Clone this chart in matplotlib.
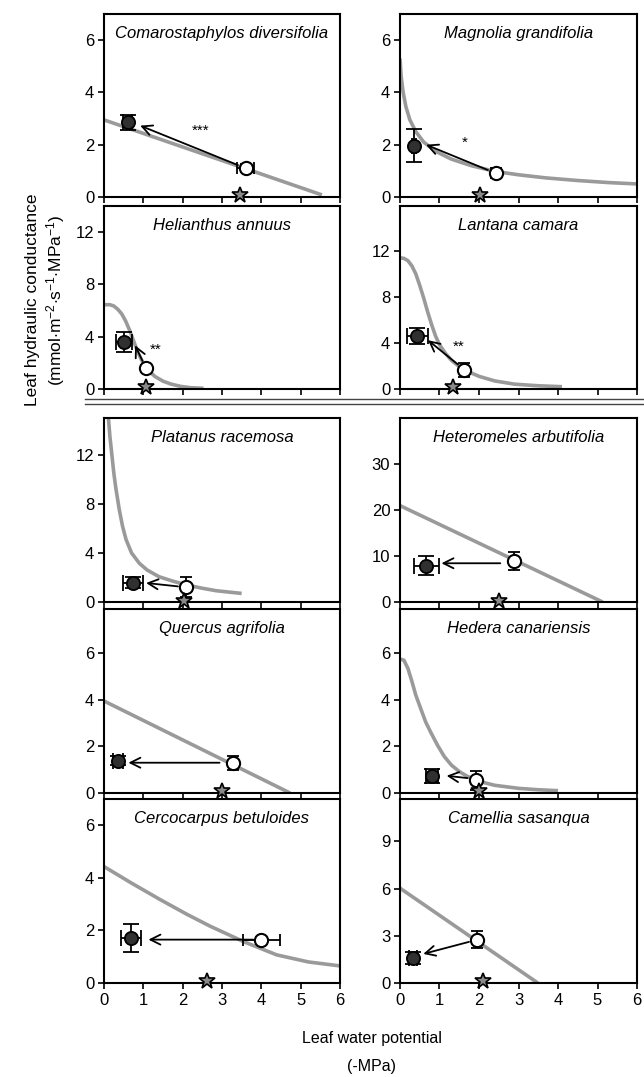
import matplotlib
matplotlib.use('Agg')
import matplotlib.pyplot as plt
import matplotlib.lines as mlines

plt.rcParams['font.family'] = ['Liberation Sans', 'DejaVu Sans']
plt.rcParams['mathtext.fontset'] = 'custom'
plt.rcParams['mathtext.rm'] = 'Liberation Sans'
plt.rcParams['mathtext.it'] = 'Liberation Sans:italic'

species = ['Comarostaphylos diversifolia', 'Magnolia grandifolia',
           'Helianthus annuus', 'Lantana camara',
           'Platanus racemosa', 'Heteromeles arbutifolia',
           'Quercus agrifolia', 'Hedera canariensis',
           'Cercocarpus betuloides', 'Camellia sasanqua']
y_max = [7, 7, 14, 15.9, 15, 39.9, 7.9, 7.9, 7, 11.7]
y_ticks = [[0, 2, 4, 6], [0, 2, 4, 6], [0, 4, 8, 12], [0, 4, 8, 12],
           [0, 4, 8, 12], [0, 10, 20, 30], [0, 2, 4, 6], [0, 2, 4, 6],
           [0, 2, 4, 6], [0, 3, 6, 9]]

# vulnerability curves
curve_x = [[0, 5.54],
           [0, 0.03, 0.08, 0.15, 0.25, 0.4, 0.6, 0.9, 1.3, 1.8, 2.4, 3.0, 3.7, 4.5, 5.3, 6.0],
           [0, 0.15, 0.25, 0.35, 0.45, 0.55, 0.65, 0.75, 0.85, 0.95, 1.05, 1.15, 1.3, 1.5,
            1.7, 1.95, 2.2, 2.53],
           [0, 0.1, 0.2, 0.3, 0.4, 0.5, 0.6, 0.7, 0.8, 0.9, 1.0, 1.15, 1.3, 1.5, 1.7, 2.0,
            2.4, 2.9, 3.5, 4.1],
           [0.11, 0.15, 0.2, 0.25, 0.3, 0.39, 0.47, 0.56, 0.7, 0.9, 1.1, 1.4, 1.75, 2.1,
            2.5, 2.85, 3.2, 3.5],
           [0, 5.13],
           [0, 4.73],
           [0, 0.1, 0.2, 0.3, 0.4, 0.53, 0.65, 0.78, 0.95, 1.12, 1.3, 1.5, 1.7, 2.0, 2.4,
            3.0, 3.5, 4.0],
           [0, 0.7, 1.42, 2.1, 2.7, 3.54, 4.39, 5.2, 6.0],
           [0, 3.49]]
curve_y = [[2.95, 0.08],
           [5.3, 4.6, 4.0, 3.45, 2.95, 2.5, 2.1, 1.75, 1.45, 1.2, 0.98, 0.85, 0.73, 0.63,
            0.55, 0.5],
           [6.45, 6.45, 6.35, 6.1, 5.75, 5.2, 4.5, 3.7, 2.9, 2.25, 1.75, 1.35, 0.95, 0.6,
            0.38, 0.2, 0.1, 0.05],
           [11.4, 11.35, 11.15, 10.7, 10.0, 9.0, 7.9, 6.7, 5.6, 4.6, 3.85, 3.1, 2.5, 1.95,
            1.55, 1.1, 0.7, 0.42, 0.28, 0.2],
           [15.1, 13.5, 12.0, 10.5, 9.3, 7.5, 6.2, 5.1, 4.0, 3.15, 2.6, 2.06, 1.7, 1.39,
            1.12, 0.92, 0.8, 0.7],
           [20.9, 0],
           [3.95, 0],
           [5.75, 5.7, 5.35, 4.8, 4.2, 3.6, 3.05, 2.6, 2.05, 1.57, 1.2, 0.92, 0.72, 0.5,
            0.33, 0.2, 0.14, 0.1],
           [4.43, 3.8, 3.18, 2.62, 2.16, 1.58, 1.07, 0.8, 0.65],
           [6.03, 0]]

# filled circles
closed_x = [0.6, 0.36, 0.51, 0.44, 0.73, 0.67, 0.36, 0.8, 0.69, 0.33]
closed_y = [2.85, 1.96, 3.6, 4.6, 1.58, 7.9, 1.39, 0.74, 1.71, 1.6]
closed_xerr = [0.12, 0.05, 0.21, 0.26, 0.25, 0.31, 0.12, 0.15, 0.26, 0.1]
closed_yerr = [0.3, 0.64, 0.75, 0.73, 0.45, 2.0, 0.2, 0.3, 0.53, 0.4]

# open circles
open_x = [3.6, 2.42, 1.07, 1.63, 2.09, 2.88, 3.27, 1.92, 4.0, 1.95]
open_y = [1.1, 0.91, 1.57, 1.67, 1.2, 8.9, 1.27, 0.55, 1.65, 2.75]
open_xerr = [0.21, 0.1, 0.03, 0.05, 0.05, 0.05, 0.05, 0.05, 0.47, 0.05]
open_yerr = [0.15, 0.2, 0.3, 0.6, 0.8, 2.0, 0.3, 0.4, 0.1, 0.55]

# arrows (start -> tip)
arrow_x0 = [3.6, 2.42, 1.07, 1.63, 2.09, 2.75, 3.15, 1.92, 4.0, 1.95]
arrow_y0 = [1.1, 0.91, 1.57, 1.67, 1.2, 8.4, 1.3, 0.6, 1.65, 2.75]
arrow_x1 = [0.92, 0.66, 0.79, 0.71, 1.07, 1.05, 0.62, 1.18, 1.13, 0.59]
arrow_y1 = [2.73, 2.0, 3.34, 4.24, 1.55, 8.4, 1.3, 0.74, 1.65, 1.85]

# stars on the x axis
star_x = [3.46, 2.03, 1.08, 1.35, 2.04, 2.5, 3.0, 1.99, 2.63, 2.1]
star_y = [0.08, 0.08, 0.15, 0.15, 0.1, 0.3, 0.1, 0.1, 0.08, 0.15]

sig_text = ['***', '*', '**', '**', '', '', '', '', '', '']
sig_x = [2.45, 1.65, 1.32, 1.48, 0, 0, 0, 0, 0, 0]
sig_y = [2.55, 2.06, 3.0, 3.7, 0, 0, 0, 0, 0, 0]

W, H = 644, 1077
fig = plt.figure(figsize=(W / 100, H / 100), dpi=100)

rows = [(14, 197), (206, 389), (418, 602), (609, 793), (799, 983)]
cols = [(104, 340), (400, 637)]

for i, name in enumerate(species):
    top, bot = rows[i // 2]
    left, right = cols[i % 2]
    ax = fig.add_axes([left / W, 1 - bot / H, (right - left) / W, (bot - top) / H])

    ax.plot(curve_x[i], curve_y[i], color='#9a9a9a', lw=2.6, zorder=1,
            solid_capstyle='butt', solid_joinstyle='round')

    ax.annotate('', xy=(arrow_x1[i], arrow_y1[i]), xytext=(arrow_x0[i], arrow_y0[i]),
                arrowprops=dict(arrowstyle='->', color='black', lw=1.3,
                                shrinkA=6, shrinkB=0, mutation_scale=18),
                zorder=3)

    ax.errorbar(closed_x[i], closed_y[i], xerr=closed_xerr[i], yerr=closed_yerr[i],
                fmt='none', ecolor='black', elinewidth=1.3, capsize=6, capthick=1.3,
                zorder=4)
    ax.errorbar(open_x[i], open_y[i], xerr=open_xerr[i], yerr=open_yerr[i],
                fmt='none', ecolor='black', elinewidth=1.3, capsize=4, capthick=1.3,
                zorder=4)
    ax.plot(closed_x[i], closed_y[i], 'o', ms=9.5, mfc='#303030', mec='black',
            mew=1.3, zorder=5)
    ax.plot(open_x[i], open_y[i], 'o', ms=9.5, mfc='white', mec='black',
            mew=1.5, zorder=5)
    ax.plot(star_x[i], star_y[i], '*', ms=12, mfc='#8a8a8a', mec='black',
            mew=1.2, zorder=6, clip_on=False)

    if sig_text[i]:
        ax.text(sig_x[i], sig_y[i], sig_text[i], fontsize=11, ha='center',
                va='center', zorder=6)

    ax.text(0.5, 0.895, name, transform=ax.transAxes, ha='center', va='center',
            fontsize=12, style='italic')

    ax.set_xlim(0, 6)
    ax.set_ylim(0, y_max[i])
    ax.set_xticks(range(7))
    ax.set_yticks(y_ticks[i])
    ax.tick_params(direction='out', length=4, width=1.2, labelsize=12, pad=3)
    if i < 8:
        ax.tick_params(labelbottom=False)
    for sp in ax.spines.values():
        sp.set_linewidth(1.5)
        sp.set_color('black')

# double separator line
for yy in (399, 404):
    fig.add_artist(mlines.Line2D([85 / W, 1], [1 - yy / H, 1 - yy / H],
                                 color='#444444', lw=1.0))

fig.text(33 / W, 1 - 300 / H, 'Leaf hydraulic conductance', rotation=90,
         ha='center', va='center', fontsize=12.5)
fig.text(56 / W, 1 - 300 / H,
         r'(mmol$\cdot$m$^{-2}$$\cdot$s$^{-1}$$\cdot$MPa$^{-1}$)',
         rotation=90, ha='center', va='center', fontsize=12.5)
fig.text(372 / W, 1 - 1038 / H, 'Leaf water potential', ha='center',
         va='center', fontsize=11.5)
fig.text(372 / W, 1 - 1066 / H, '(-MPa)', ha='center', va='center',
         fontsize=11.5)

fig.savefig('out.png', dpi=100)
